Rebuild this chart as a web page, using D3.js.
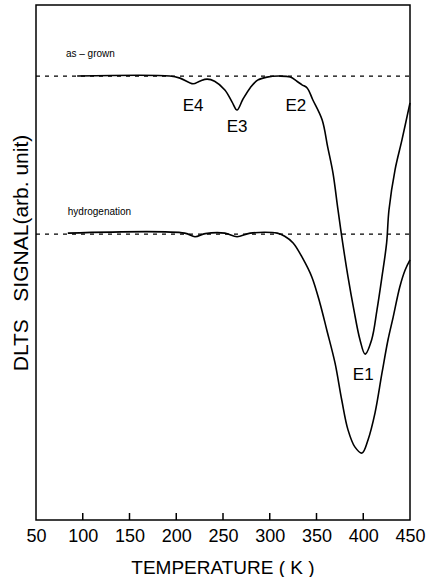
<!DOCTYPE html>
<html>
<head>
<meta charset="utf-8">
<script src="https://cdn.jsdelivr.net/npm/d3@7"></script>
<style>
  body { margin: 0; background: #fff; }
  svg text { font-family: "Liberation Sans", Arial, sans-serif; fill: #000; }
</style>
</head>
<body>
<div id="chart"></div>
<script>
// temperature (K) and DLTS signal (arb. unit)
var grownT = [94, 193, 204, 218, 225, 233, 241, 252, 259.6, 265, 271, 279, 287, 297, 311, 322, 329, 334.5, 340, 346, 356, 362, 367.6, 373, 378, 383.7, 390, 396.5, 402, 409, 414.7, 420, 425, 427.5, 434, 441.4, 450];
var grownS = [86.2, 86.2, 85.8, 84.7, 85.2, 85.6, 85.2, 83.5, 81.2, 79.6, 81.6, 83.9, 85.4, 86.0, 86.2, 86.0, 85.2, 84.5, 83.9, 81.6, 77.7, 72.4, 67.4, 60.2, 53.8, 47.2, 40.8, 35.0, 32.2, 35.0, 40.8, 47.2, 53.8, 60.2, 68.0, 73.8, 81.0];

var hydroT = [84, 209, 220, 231, 252, 265, 279, 308, 316, 325, 335.6, 345, 353.7, 361, 369.8, 377, 383.7, 391, 398.7, 405, 412.6, 420, 426.5, 432, 439, 444.7, 450];
var hydroS = [55.7, 55.7, 55.0, 55.6, 55.7, 55.0, 55.7, 55.7, 55.1, 53.8, 50.7, 47.2, 42.1, 36.9, 30.5, 23.3, 17.5, 14.2, 13.0, 15.5, 20.8, 28.5, 35.0, 39.4, 45.2, 48.5, 50.5];

var baselines = [86.2, 55.5];
var xTicks = [50, 100, 150, 200, 250, 300, 350, 400, 450];

// curve labels: [text, T, signal, size]
var labels = [
  ["as \u2013 grown", 82, 90.0, 10],
  ["hydrogenation", 84, 59.2, 10],
  ["E4", 218, 79.4, 17],
  ["E3", 265, 75.4, 17],
  ["E2", 328, 79.4, 17],
  ["E1", 400, 27.2, 17]
];

var W = 426, H = 577;
var mLeft = 36, mRight = 410, mTop = 5, mBottom = 520;

var svg = d3.select("#chart").append("svg")
  .attr("width", W)
  .attr("height", H);

var x = d3.scaleLinear().domain([50, 450]).range([mLeft, mRight]);
var y = d3.scaleLinear().domain([0, 100]).range([mBottom, mTop]);

// frame
svg.append("rect")
  .attr("x", mLeft).attr("y", mTop)
  .attr("width", mRight - mLeft).attr("height", mBottom - mTop)
  .style("fill", "none").style("stroke", "#000").style("stroke-width", 1.5);

// bottom axis: inward ticks, labels below
var xAxis = d3.axisBottom(x)
  .tickValues(xTicks)
  .tickSize(0)
  .tickPadding(9)
  .tickFormat(d3.format("d"));

var gx = svg.append("g")
  .attr("transform", "translate(0," + mBottom + ")")
  .call(xAxis);
gx.select(".domain").remove();
gx.selectAll("text")
  .style("font-family", "Liberation Sans, Arial, sans-serif")
  .style("font-size", "18px")
  .attr("dy", "0.71em");

svg.append("g").selectAll("line")
  .data(xTicks.slice(1, -1))
  .enter().append("line")
  .attr("x1", function(d){ return x(d); })
  .attr("x2", function(d){ return x(d); })
  .attr("y1", mBottom)
  .attr("y2", mBottom - 7)
  .style("stroke", "#000").style("stroke-width", 1.5);

// dashed reference lines
svg.append("g").selectAll("line")
  .data(baselines)
  .enter().append("line")
  .attr("x1", mLeft).attr("x2", mRight)
  .attr("y1", function(d){ return y(d); })
  .attr("y2", function(d){ return y(d); })
  .style("stroke", "#000")
  .style("stroke-width", 1.3)
  .style("stroke-dasharray", "4,5");

// curves
var line = d3.line()
  .x(function(d){ return x(d[0]); })
  .y(function(d){ return y(d[1]); })
  .curve(d3.curveCatmullRom.alpha(0.5));

[[grownT, grownS], [hydroT, hydroS]].forEach(function(s){
  svg.append("path")
    .datum(d3.zip(s[0], s[1]))
    .attr("d", line)
    .style("fill", "none")
    .style("stroke", "#000")
    .style("stroke-width", 1.6);
});

// labels
svg.append("g").selectAll("text")
  .data(labels)
  .enter().append("text")
  .attr("x", function(d){ return x(d[1]); })
  .attr("y", function(d){ return y(d[2]); })
  .attr("text-anchor", function(d){ return d[3] < 12 ? "start" : "middle"; })
  .style("font-size", function(d){ return d[3] + "px"; })
  .text(function(d){ return d[0]; });

// axis titles
svg.append("text")
  .attr("x", (mLeft + mRight) / 2)
  .attr("y", 574)
  .attr("text-anchor", "middle")
  .style("font-size", "19px")
  .text("TEMPERATURE ( K )");

svg.append("text")
  .attr("transform", "translate(28,253) rotate(-90)")
  .attr("text-anchor", "middle")
  .style("font-size", "21px")
  .text("DLTS\u00a0\u00a0\u00a0SIGNAL(arb. unit)");
</script>
</body>
</html>
